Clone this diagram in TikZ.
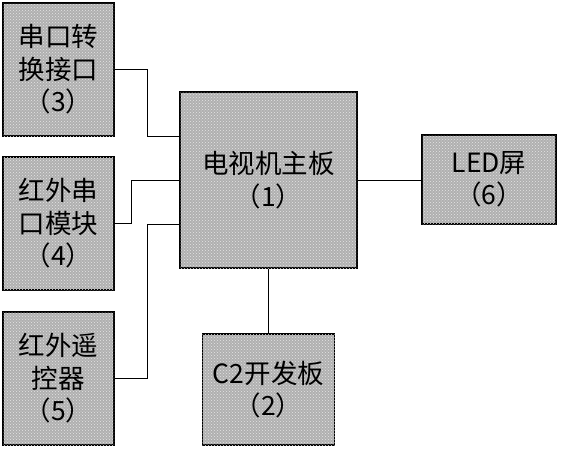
\documentclass[tikz,border=0pt]{standalone}
\usepackage{fontspec}
\newfontfamily\cjk{Noto Sans CJK SC}
\usetikzlibrary{patterns}
\tikzset{
  blockbox/.style={draw, line width=1.3pt, fill=gray!62,
    postaction={pattern=crosshatch dots, pattern color=white!80!gray},
    inner sep=0pt, align=center, font=\cjk\fontsize{26.5}{32.5}\selectfont},
  wire/.style={line width=1pt}
}
\begin{document}
\begin{tikzpicture}[x=1pt, y=-1pt]
  \useasboundingbox (0,0) rectangle (561,450);
  \node[blockbox, minimum width=111pt, minimum height=133pt] (conv) at (58.5,69.5) {串口转\\换接口\\（3）};
  \node[blockbox, minimum width=111pt, minimum height=133pt] (irmod) at (58.5,223.5) {红外串\\口模块\\（4）};
  \node[blockbox, minimum width=111pt, minimum height=133pt] (remote) at (58.5,378.5) {红外遥\\控器\\（5）};
  \node[blockbox, minimum width=177pt, minimum height=176pt] (main) at (268.5,180) {电视机主板\\（1）};
  \node[blockbox, minimum width=132pt, minimum height=111pt] (devboard) at (268.5,389.5) {C2开发板\\（2）};
  \node[blockbox, minimum width=134pt, minimum height=89pt] (led) at (489,179.5) {LED屏\\（6）};
  % connectors
  \draw[wire] (conv.east) -- (147,69.5) -- (147,136) -- (main.west |- 0,136);
  \draw[wire] (irmod.east) -- (131,223.5) -- (131,180) -- (main.west);
  \draw[wire] (remote.east) -- (147,378.5) -- (147,224) -- (main.west |- 0,224);
  \draw[wire] (main.east) -- (led.west |- main.east);
  \draw[wire] (main.south) -- (devboard.north);
\end{tikzpicture}
\end{document}
